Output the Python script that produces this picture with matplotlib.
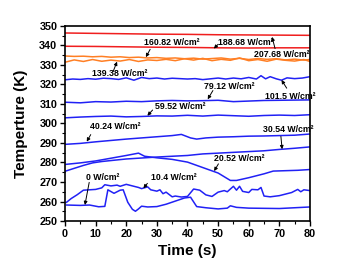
import matplotlib
matplotlib.use("Agg")
import matplotlib.pyplot as plt
from matplotlib.ticker import MultipleLocator

plt.rcParams["font.family"] = ["Liberation Sans", "DejaVu Sans"]
plt.rcParams["font.weight"] = "bold"

RED = "#f01e1e"
ORANGE = "#ff7f24"
BLUE = "#2121f5"

# --- data ---
t_red = [0, 10, 20, 30, 40, 50, 60, 70, 80]
T_207 = [346.4, 346.2, 346.0, 345.8, 345.7, 345.5, 345.4, 345.3, 345.2]
T_188 = [339.6, 339.5, 339.3, 339.1, 339.0, 338.8, 338.7, 338.8, 338.8]

t_or = [0, 3, 6, 9, 12, 15, 18, 21, 24, 27, 30, 33, 36, 39, 42, 45, 48,
        51, 54, 57, 60, 63, 66, 69, 72, 75, 78, 80]
T_160 = [334.6, 334.4, 334.5, 334.2, 334.4, 334.0, 334.2, 333.8, 334.0,
         333.6, 333.8, 333.4, 333.6, 333.2, 333.5, 333.0, 333.3, 333.6,
         333.0, 333.4, 332.8, 333.3, 332.9, 333.2, 332.6, 333.0, 332.5, 332.8]
T_139 = [331.4, 332.6, 331.8, 332.8, 331.9, 332.5, 332.0, 332.8, 331.8,
         332.6, 332.3, 332.9, 332.2, 333.2, 332.5, 333.4, 332.2, 332.9,
         332.4, 333.6, 332.2, 332.8, 331.9, 333.0, 332.4, 332.0, 332.8, 331.8]

t_101 = [0, 2.5, 5, 7.5, 10, 12.5, 15, 17.5, 20, 22.5, 25, 27.5, 30, 32.5,
         35, 37.5, 40, 42.5, 45, 47.5, 50, 52.5, 55, 57.5, 60, 62.5, 64,
         65.5, 67, 69, 70.7, 72.5, 75, 77.5, 80]
T_101 = [322.4, 322.8, 322.6, 323.0, 322.7, 323.2, 323.0, 322.6, 323.4,
         322.2, 323.6, 323.0, 323.3, 322.8, 323.2, 323.0, 322.8, 323.0,
         322.5, 322.9, 323.3, 322.8, 323.3, 322.9, 323.6, 322.8, 324.5,
         322.9, 324.0, 322.9, 322.2, 323.4, 323.0, 323.3, 324.0]

t_79 = [0, 5, 10, 15, 20, 25, 30, 35, 40, 45, 50, 55, 60, 65, 70, 75, 80]
T_79 = [310.9, 310.6, 311.2, 311.0, 311.4, 311.2, 311.6, 311.8, 311.6,
        311.7, 311.9, 311.2, 311.5, 311.8, 311.9, 312.0, 312.1]

t_59 = [0, 5, 10, 15, 20, 25, 30, 35, 40, 45, 50, 55, 60, 65, 70, 75, 80]
T_59 = [302.9, 303.3, 303.6, 303.8, 303.4, 303.6, 303.9, 303.8, 304.2,
        303.8, 304.3, 304.0, 303.7, 304.1, 304.3, 304.1, 304.5]

t_40 = [0, 5, 10, 15, 20, 25, 30, 35, 38, 41, 43, 46, 50, 55, 60, 65, 70, 75, 80]
T_40 = [289.3, 289.8, 290.6, 291.3, 292.0, 292.6, 293.2, 293.8, 294.4,
        292.6, 292.0, 292.6, 293.0, 293.2, 293.5, 293.6, 293.8, 294.0, 294.6]

t_30 = [0, 3, 6, 9, 12, 15, 20, 25, 30, 35, 40, 45, 50, 55, 60, 65, 70, 75, 80]
T_30 = [275.5, 277.0, 278.5, 279.8, 280.5, 281.0, 281.8, 282.3, 282.8,
        283.2, 283.6, 284.4, 284.8, 285.2, 285.6, 286.0, 286.7, 287.3, 288.0]

t_20 = [0, 5, 10, 15, 20, 24, 26, 30, 35, 40, 45, 50, 54, 56, 60, 65, 68, 72, 76, 80]
T_20 = [279.0, 279.8, 280.8, 282.2, 283.6, 284.8, 283.2, 282.4, 281.6,
        280.2, 277.4, 274.6, 270.8, 270.8, 272.2, 274.2, 275.6, 275.8, 276.0, 276.4]

t_10 = [0.5, 2, 4, 6, 8, 10, 12, 13, 15, 17, 18, 20, 22, 24, 25, 27, 28,
        30, 31, 32, 33, 35, 36, 38, 40, 42, 44, 46, 48, 50, 52, 53, 55, 56,
        57, 58, 60, 61, 63, 64, 65, 67, 70, 74, 76, 77, 78, 80]
T_10 = [259.6, 261.5, 263.5, 265.8, 266.0, 266.2, 267.0, 268.6, 268.0,
        268.4, 267.8, 268.8, 268.0, 267.2, 266.6, 267.5, 266.0, 265.3, 266.0,
        264.0, 264.8, 262.4, 262.8, 262.3, 262.6, 266.4, 265.8, 263.4, 262.6,
        264.8, 265.6, 265.0, 267.8, 265.8, 267.8, 265.2, 264.6, 266.2, 266.0,
        267.2, 262.8, 262.4, 263.0, 264.6, 266.2, 265.0, 266.0, 265.6]

t_0 = [0.5, 5, 8, 11, 13, 14, 16, 18, 19, 20.5, 22, 23, 24, 25, 27, 30,
       33, 36, 39, 41, 43, 46, 50, 53, 54, 56, 60, 65, 70, 75, 80]
T_0 = [258.2, 258.0, 258.2, 257.3, 257.5, 266.0, 264.2, 265.8, 266.0,
       259.6, 256.0, 255.0, 256.2, 257.6, 257.2, 257.4, 258.6, 260.2, 261.8,
       262.2, 257.4, 256.8, 256.2, 256.6, 257.8, 257.0, 256.6, 256.5, 256.4,
       256.8, 257.2]

labels = ["207.68 W/cm²", "188.68 W/cm²", "160.82 W/cm²", "139.38 W/cm²",
          "101.5 W/cm²", "79.12 W/cm²", "59.52 W/cm²", "40.24 W/cm²",
          "30.54 W/cm²", "20.52 W/cm²", "10.4 W/cm²", "0 W/cm²"]
# (text x, text y, arrow tail x, tail y, tip x, tip y)
label_pos = [(61.8, 335.6, 68.6, 338.4, 67.6, 344.4),
             (49.8, 341.4, 50.0, 340.6, 48.6, 338.4),
             (25.8, 341.4, 27.8, 338.0, 26.4, 334.0),
             (8.8, 325.4, 15.7, 326.6, 17.0, 331.7),
             (65.2, 313.7, 72.4, 318.1, 70.7, 322.3),
             (45.4, 319.2, 48.3, 316.9, 46.6, 312.4),
             (29.4, 308.6, 28.6, 306.9, 26.9, 304.0),
             (8.2, 298.7, 8.4, 294.3, 7.1, 290.7),
             (64.6, 297.0, 70.5, 293.4, 70.9, 286.8),
             (48.7, 281.8, 50.1, 279.3, 48.7, 275.6),
             (28.0, 272.2, 26.9, 269.3, 25.6, 266.8),
             (6.9, 272.2, 7.9, 269.8, 6.5, 258.2)]

fig = plt.figure(figsize=(3.64, 2.65), dpi=100)
ax = fig.add_axes([0.1786, 0.166, 0.673, 0.736])

lw = 1.1
ax.plot(t_red, T_207, color=RED, lw=lw)
ax.plot(t_red, T_188, color=RED, lw=lw)
ax.plot(t_or, T_160, color=ORANGE, lw=lw)
ax.plot(t_or, T_139, color=ORANGE, lw=lw)
for tt, TT in [(t_101, T_101), (t_79, T_79), (t_59, T_59), (t_40, T_40),
               (t_30, T_30), (t_20, T_20), (t_10, T_10), (t_0, T_0)]:
    ax.plot(tt, TT, color=BLUE, lw=lw)

for lab, (tx, ty, ax0, ay0, ax1, ay1) in zip(labels, label_pos):
    ax.text(tx, ty, lab, fontsize=6.3, fontweight="bold", va="center", ha="left")
    ax.annotate("", xy=(ax1, ay1), xytext=(ax0, ay0),
                arrowprops=dict(arrowstyle="-|>", color="black", lw=0.7,
                                mutation_scale=5, shrinkA=0, shrinkB=0))

ax.set_xlim(0, 80)
ax.set_ylim(250, 350)
ax.xaxis.set_major_locator(MultipleLocator(10))
ax.xaxis.set_minor_locator(MultipleLocator(5))
ax.yaxis.set_major_locator(MultipleLocator(10))
ax.yaxis.set_minor_locator(MultipleLocator(5))
ax.tick_params(which="major", direction="out", length=3.5, width=1.0,
               labelsize=7.8, pad=2)
ax.tick_params(which="minor", direction="out", length=2, width=0.8)
for lab in ax.get_xticklabels() + ax.get_yticklabels():
    lab.set_fontweight("bold")
for sp in ax.spines.values():
    sp.set_linewidth(1.2)

ax.set_xlabel("Time (s)", fontsize=11, fontweight="bold", labelpad=4)
ax.set_ylabel("Temperture (K)", fontsize=11, fontweight="bold", labelpad=8)

fig.savefig("out.png", dpi=100)
